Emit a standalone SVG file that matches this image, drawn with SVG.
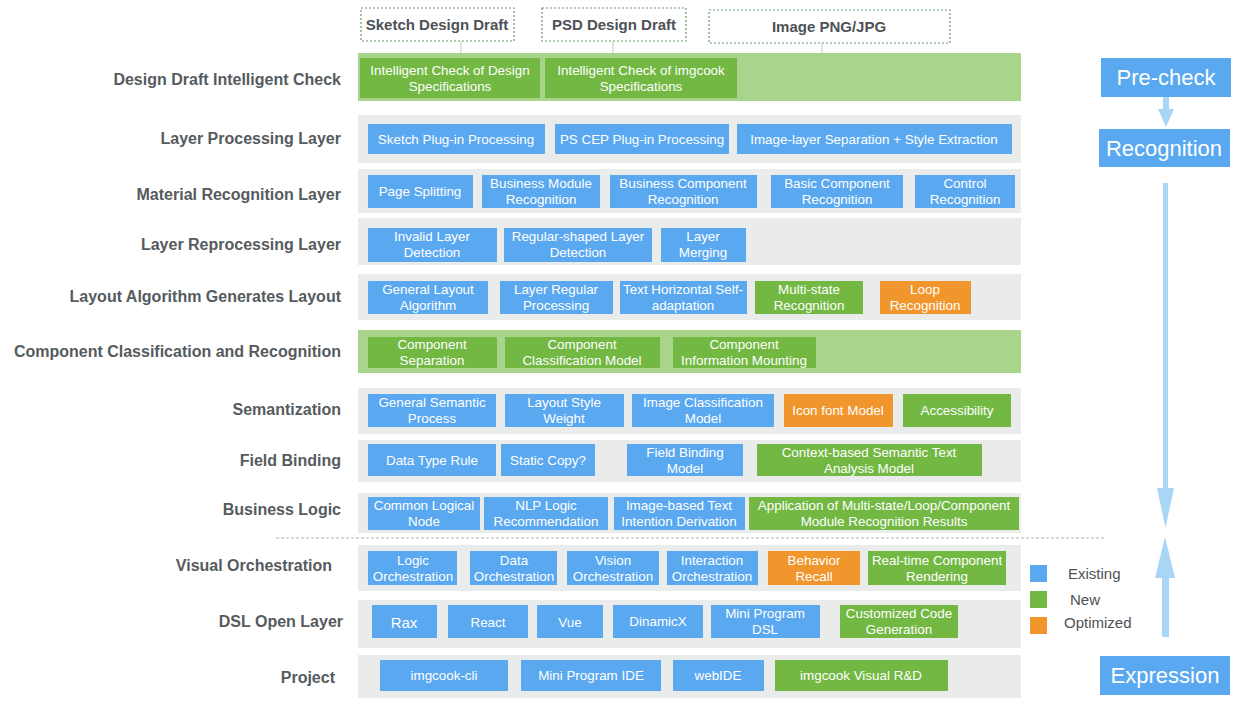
<svg xmlns="http://www.w3.org/2000/svg" width="1249" height="705" viewBox="0 0 1249 705">
<style>
.band{fill:#e9ecea}
.gband{fill:#a8d48c}
.b{fill:#5aa8ef}
.g{fill:#72b843}
.o{fill:#f0962d}
.t{font-family:"Liberation Sans",Arial,sans-serif;font-size:13.4px;fill:#ffffff;text-anchor:middle}
.lbl{font-family:"Liberation Sans",Arial,sans-serif;font-size:16px;font-weight:bold;fill:#555b5e;text-anchor:end}
.src{fill:#ffffff;stroke:#6a9a6a;stroke-width:1.2;stroke-dasharray:2 2}
.srct{font-family:"Liberation Sans",Arial,sans-serif;font-size:15px;font-weight:bold;fill:#4d5256;text-anchor:middle}
.stage{fill:#5aa8ef}
.stt{font-family:"Liberation Sans",Arial,sans-serif;font-size:22px;fill:#ffffff;text-anchor:middle}
.arr{fill:#a9d5f6}
.lg{font-family:"Liberation Sans",Arial,sans-serif;font-size:15px;fill:#4d5256}
</style>

<!-- source drafts -->
<g id="src-sketch"><rect class="src" x="361" y="8" width="153" height="33"/><text class="srct" x="437" y="30">Sketch Design Draft</text></g>
<g id="src-psd"><rect class="src" x="542" y="8" width="144" height="33"/><text class="srct" x="614" y="30">PSD Design Draft</text></g>
<g id="src-img"><rect class="src" x="709" y="10" width="241" height="33"/><text class="srct" x="829" y="32">Image PNG/JPG</text></g>

<g id="connectors" stroke="#c8d4c8" stroke-width="1.2">
<line x1="461" y1="41" x2="461" y2="58"/>
<line x1="613" y1="41" x2="613" y2="58"/>
<line x1="822" y1="43" x2="822" y2="58"/>
</g>

<!-- row 1 -->
<g id="row-check">
<text class="lbl" x="341" y="85">Design Draft Intelligent Check</text>
<rect class="gband" x="358" y="53" width="663" height="48"/>
<g id="n-check-design"><rect class="g" x="360" y="58" width="180" height="40"/><text class="t" x="450" y="75">Intelligent Check of Design<tspan x="450" dy="16">Specifications</tspan></text></g>
<g id="n-check-imgcook"><rect class="g" x="545" y="58" width="192" height="40"/><text class="t" x="641" y="75">Intelligent Check of imgcook<tspan x="641" dy="16">Specifications</tspan></text></g>
</g>

<!-- row 2 -->
<g id="row-layerproc">
<text class="lbl" x="341" y="144">Layer Processing Layer</text>
<rect class="band" x="358" y="115" width="663" height="48"/>
<g id="n-sketch-plugin"><rect class="b" x="368" y="124" width="177" height="30"/><text class="t" x="456" y="144">Sketch Plug-in Processing</text></g>
<g id="n-ps-plugin"><rect class="b" x="555" y="124" width="174" height="30"/><text class="t" x="642" y="144">PS CEP Plug-in Processing</text></g>
<g id="n-image-sep"><rect class="b" x="737" y="124" width="275" height="30"/><text class="t" x="874" y="144">Image-layer Separation + Style Extraction</text></g>
</g>

<!-- row 3 -->
<g id="row-material">
<text class="lbl" x="341" y="200">Material Recognition Layer</text>
<rect class="band" x="358" y="169" width="663" height="44"/>
<g id="n-page-split"><rect class="b" x="368" y="175" width="105" height="33"/><text class="t" x="420" y="196">Page Splitting</text></g>
<g id="n-biz-module"><rect class="b" x="482" y="175" width="118" height="33"/><text class="t" x="541" y="188">Business Module<tspan x="541" dy="16">Recognition</tspan></text></g>
<g id="n-biz-comp"><rect class="b" x="610" y="175" width="147" height="33"/><text class="t" x="683" y="188">Business Component<tspan x="683" dy="16">Recognition</tspan></text></g>
<g id="n-basic-comp"><rect class="b" x="771" y="175" width="132" height="33"/><text class="t" x="837" y="188">Basic Component<tspan x="837" dy="16">Recognition</tspan></text></g>
<g id="n-control"><rect class="b" x="915" y="175" width="100" height="33"/><text class="t" x="965" y="188">Control<tspan x="965" dy="16">Recognition</tspan></text></g>
</g>

<!-- row 4 -->
<g id="row-reproc">
<text class="lbl" x="341" y="250">Layer Reprocessing Layer</text>
<rect class="band" x="358" y="218" width="663" height="47"/>
<g id="n-invalid"><rect class="b" x="368" y="228" width="129" height="34"/><text class="t" x="432" y="241">Invalid Layer<tspan x="432" dy="16">Detection</tspan></text></g>
<g id="n-regular-shaped"><rect class="b" x="504" y="228" width="148" height="34"/><text class="t" x="578" y="241">Regular-shaped Layer<tspan x="578" dy="16">Detection</tspan></text></g>
<g id="n-merging"><rect class="b" x="661" y="228" width="85" height="34"/><text class="t" x="703" y="241">Layer<tspan x="703" dy="16">Merging</tspan></text></g>
</g>

<!-- row 5 -->
<g id="row-layout">
<text class="lbl" x="341" y="302">Layout Algorithm Generates Layout</text>
<rect class="band" x="358" y="274" width="663" height="46"/>
<g id="n-general-layout"><rect class="b" x="368" y="281" width="120" height="33"/><text class="t" x="428" y="294">General Layout<tspan x="428" dy="16">Algorithm</tspan></text></g>
<g id="n-layer-regular"><rect class="b" x="500" y="281" width="113" height="33"/><text class="t" x="556" y="294">Layer Regular<tspan x="556" dy="16">Processing</tspan></text></g>
<g id="n-text-horiz"><rect class="b" x="620" y="281" width="127" height="33"/><text class="t" x="683" y="294">Text Horizontal Self-<tspan x="683" dy="16">adaptation</tspan></text></g>
<g id="n-multistate"><rect class="g" x="755" y="281" width="108" height="33"/><text class="t" x="809" y="294">Multi-state<tspan x="809" dy="16">Recognition</tspan></text></g>
<g id="n-loop"><rect class="o" x="880" y="281" width="91" height="33"/><text class="t" x="925" y="294">Loop<tspan x="925" dy="16">Recognition</tspan></text></g>
</g>

<!-- row 6 -->
<g id="row-compclass">
<text class="lbl" x="341" y="357">Component Classification and Recognition</text>
<rect class="gband" x="358" y="330" width="663" height="43"/>
<g id="n-comp-sep"><rect class="g" x="368" y="337" width="129" height="31"/><text class="t" x="432" y="349">Component<tspan x="432" dy="16">Separation</tspan></text></g>
<g id="n-comp-class"><rect class="g" x="505" y="337" width="155" height="31"/><text class="t" x="582" y="349">Component<tspan x="582" dy="16">Classification Model</tspan></text></g>
<g id="n-comp-info"><rect class="g" x="673" y="337" width="143" height="31"/><text class="t" x="744" y="349">Component<tspan x="744" dy="16">Information Mounting</tspan></text></g>
</g>

<!-- row 7 -->
<g id="row-semantic">
<text class="lbl" x="341" y="415">Semantization</text>
<rect class="band" x="358" y="388" width="663" height="46"/>
<g id="n-gen-semantic"><rect class="b" x="368" y="394" width="128" height="33"/><text class="t" x="432" y="407">General Semantic<tspan x="432" dy="16">Process</tspan></text></g>
<g id="n-layout-style"><rect class="b" x="505" y="394" width="119" height="33"/><text class="t" x="564" y="407">Layout Style<tspan x="564" dy="16">Weight</tspan></text></g>
<g id="n-img-class"><rect class="b" x="632" y="394" width="142" height="33"/><text class="t" x="703" y="407">Image Classification<tspan x="703" dy="16">Model</tspan></text></g>
<g id="n-iconfont"><rect class="o" x="784" y="394" width="109" height="33"/><text class="t" x="838" y="415">Icon font Model</text></g>
<g id="n-access"><rect class="g" x="903" y="394" width="108" height="33"/><text class="t" x="957" y="415">Accessibility</text></g>
</g>

<!-- row 8 -->
<g id="row-field">
<text class="lbl" x="341" y="466">Field Binding</text>
<rect class="band" x="358" y="440" width="663" height="42"/>
<g id="n-datatype"><rect class="b" x="368" y="444" width="128" height="32"/><text class="t" x="432" y="465">Data Type Rule</text></g>
<g id="n-static"><rect class="b" x="501" y="444" width="94" height="32"/><text class="t" x="548" y="465">Static Copy?</text></g>
<g id="n-field-model"><rect class="b" x="627" y="444" width="116" height="32"/><text class="t" x="685" y="457">Field Binding<tspan x="685" dy="16">Model</tspan></text></g>
<g id="n-context"><rect class="g" x="757" y="444" width="225" height="32"/><text class="t" x="869" y="457">Context-based Semantic Text<tspan x="869" dy="16">Analysis Model</tspan></text></g>
</g>

<!-- row 9 -->
<g id="row-bizlogic">
<text class="lbl" x="341" y="515">Business Logic</text>
<rect class="band" x="358" y="493" width="663" height="40"/>
<g id="n-common-logic"><rect class="b" x="368" y="497" width="112" height="33"/><text class="t" x="424" y="510">Common Logical<tspan x="424" dy="16">Node</tspan></text></g>
<g id="n-nlp"><rect class="b" x="484" y="497" width="124" height="33"/><text class="t" x="546" y="510">NLP Logic<tspan x="546" dy="16">Recommendation</tspan></text></g>
<g id="n-img-text"><rect class="b" x="614" y="497" width="131" height="33"/><text class="t" x="679" y="510">Image-based Text<tspan x="679" dy="16">Intention Derivation</tspan></text></g>
<g id="n-apply"><rect class="g" x="749" y="497" width="270" height="33"/><text class="t" x="884" y="510">Application of Multi-state/Loop/Component<tspan x="884" dy="16">Module Recognition Results</tspan></text></g>
</g>

<line id="separator" x1="276" y1="538" x2="1105" y2="538" stroke="#d6dbd8" stroke-width="2" stroke-dasharray="3 2"/>

<!-- row 10 -->
<g id="row-visual">
<text class="lbl" x="332" y="571">Visual Orchestration</text>
<rect class="band" x="358" y="545" width="663" height="46"/>
<g id="n-logic-orch"><rect class="b" x="368" y="551" width="89" height="34"/><text class="t" x="413" y="565">Logic<tspan x="413" dy="16">Orchestration</tspan></text></g>
<g id="n-data-orch"><rect class="b" x="470" y="551" width="87" height="34"/><text class="t" x="514" y="565">Data<tspan x="514" dy="16">Orchestration</tspan></text></g>
<g id="n-vision-orch"><rect class="b" x="567" y="551" width="92" height="34"/><text class="t" x="613" y="565">Vision<tspan x="613" dy="16">Orchestration</tspan></text></g>
<g id="n-inter-orch"><rect class="b" x="667" y="551" width="91" height="34"/><text class="t" x="712" y="565">Interaction<tspan x="712" dy="16">Orchestration</tspan></text></g>
<g id="n-behavior"><rect class="o" x="768" y="551" width="92" height="34"/><text class="t" x="814" y="565">Behavior<tspan x="814" dy="16">Recall</tspan></text></g>
<g id="n-realtime"><rect class="g" x="868" y="551" width="138" height="34"/><text class="t" x="937" y="565">Real-time Component<tspan x="937" dy="16">Rendering</tspan></text></g>
</g>

<!-- row 11 -->
<g id="row-dsl">
<text class="lbl" x="343" y="627">DSL Open Layer</text>
<rect class="band" x="358" y="600" width="663" height="48"/>
<g id="n-rax"><rect class="b" x="372" y="605" width="65" height="33"/><text class="t" x="404" y="628" style="font-size:15px">Rax</text></g>
<g id="n-react"><rect class="b" x="448" y="605" width="80" height="33"/><text class="t" x="488" y="627">React</text></g>
<g id="n-vue"><rect class="b" x="537" y="605" width="66" height="33"/><text class="t" x="570" y="627">Vue</text></g>
<g id="n-dinamicx"><rect class="b" x="613" y="605" width="90" height="33"/><text class="t" x="658" y="626">DinamicX</text></g>
<g id="n-mp-dsl"><rect class="b" x="711" y="605" width="109" height="33"/><text class="t" x="765" y="618">Mini Program<tspan x="765" dy="16">DSL</tspan></text></g>
<g id="n-custom"><rect class="g" x="840" y="605" width="118" height="33"/><text class="t" x="899" y="618">Customized Code<tspan x="899" dy="16">Generation</tspan></text></g>
</g>

<!-- row 12 -->
<g id="row-project">
<text class="lbl" x="335" y="683">Project</text>
<rect class="band" x="358" y="655" width="663" height="43"/>
<g id="n-cli"><rect class="b" x="380" y="660" width="128" height="31"/><text class="t" x="444" y="680">imgcook-cli</text></g>
<g id="n-mp-ide"><rect class="b" x="521" y="660" width="140" height="31"/><text class="t" x="591" y="680">Mini Program IDE</text></g>
<g id="n-webide"><rect class="b" x="673" y="660" width="91" height="31"/><text class="t" x="718" y="680">webIDE</text></g>
<g id="n-visual-rd"><rect class="g" x="775" y="660" width="173" height="31"/><text class="t" x="861" y="680">imgcook Visual R&amp;D</text></g>
</g>

<!-- stages -->
<g id="stage-precheck"><rect class="stage" x="1101" y="58" width="130" height="39"/><text class="stt" x="1166" y="85">Pre-check</text></g>
<g id="stage-recognition"><rect class="stage" x="1099" y="129" width="131" height="38"/><text class="stt" x="1164" y="156">Recognition</text></g>
<g id="stage-expression"><rect class="stage" x="1100" y="656" width="130" height="39"/><text class="stt" x="1165" y="683">Expression</text></g>

<g id="stage-arrows">
<path class="arr" d="M1163,97 h6 v12 h5 l-8,18 l-8,-18 h5 z"/>
<path class="arr" d="M1163,183 h5 v305 h6 l-8.5,40 l-8.5,-40 h6 z"/>
<path class="arr" d="M1162,637 h7 v-59 h6 l-10,-41 l-10,41 h7 z"/>
</g>

<!-- legend -->
<g id="legend">
<rect class="b" x="1030" y="565" width="17" height="17"/>
<rect class="g" x="1030" y="591" width="17" height="17"/>
<rect class="o" x="1030" y="617" width="17" height="17"/>
<text class="lg" x="1068" y="579">Existing</text>
<text class="lg" x="1070" y="605">New</text>
<text class="lg" x="1064" y="628">Optimized</text>
</g>
</svg>
